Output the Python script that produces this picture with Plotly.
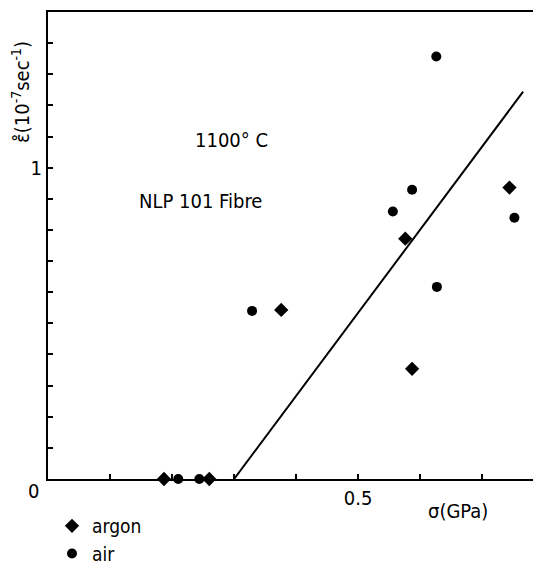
import plotly.graph_objects as go

# Data
argon_stress = [0.187, 0.260, 0.376, 0.576, 0.587, 0.744]
argon_rate = [0.0, 0.0, 0.543, 0.772, 0.354, 0.936]
air_stress = [0.210, 0.244, 0.329, 0.556, 0.587, 0.626, 0.627, 0.752]
air_rate = [0.0, 0.0, 0.540, 0.859, 0.929, 1.357, 0.617, 0.839]
fit_stress = [0.300, 0.766]
fit_rate = [0.0, 1.244]

x_ticks = [0, 0.1, 0.2, 0.3, 0.4, 0.5, 0.6, 0.7]
x_ticktext = ["", "", "", "", "", "0.5", "", ""]
y_ticks = [0, 0.1, 0.2, 0.3, 0.4, 0.5, 0.6, 0.7, 0.8, 0.9, 1.0, 1.1, 1.2, 1.3, 1.4]
y_ticktext = ["", "", "", "", "", "", "", "", "", "", "1", "", "", "", ""]

FONT = "DejaVu Sans Condensed, Liberation Sans Narrow, Liberation Sans"

fig = go.Figure()
fig.add_trace(go.Scatter(x=argon_stress, y=argon_rate, mode="markers", name="argon",
                         marker=dict(symbol="diamond", size=11, color="black"), cliponaxis=False))
fig.add_trace(go.Scatter(x=air_stress, y=air_rate, mode="markers", name="air",
                         marker=dict(symbol="circle", size=10, color="black"), cliponaxis=False))
fig.add_trace(go.Scatter(x=fit_stress, y=fit_rate, mode="lines", showlegend=False,
                         line=dict(color="black", width=2)))

# page offset of the figure (default body margin)
OFF = 8
L, T, W, H = 48 - OFF, 12 - OFF, 490, 467


def px(x):
    return (x - OFF - L) / W


def py(y):
    return (T + H - (y - OFF)) / H


fig.update_layout(
    width=541 - OFF, height=564 - OFF,
    margin=dict(l=L, r=3, t=T, b=564 - OFF - T - H, autoexpand=False),
    plot_bgcolor="white", paper_bgcolor="white",
    font=dict(family=FONT, size=20, color="black"),
    showlegend=True,
    legend=dict(x=px(52), y=py(507), xanchor="left", yanchor="top",
                font=dict(size=19), tracegroupgap=0, itemsizing="trace",
                bgcolor="rgba(0,0,0,0)"),
    xaxis=dict(range=[0, 0.79], tickvals=x_ticks, ticktext=x_ticktext,
               ticks="inside", ticklen=5, tickwidth=1.5, tickcolor="black",
               showline=True, linecolor="black", linewidth=2, mirror=True,
               showgrid=False, zeroline=False, tickfont=dict(size=20)),
    yaxis=dict(range=[0, 1.5], tickvals=y_ticks, ticktext=y_ticktext,
               ticks="inside", ticklen=5, tickwidth=1.5, tickcolor="black",
               showline=True, linecolor="black", linewidth=2, mirror=True,
               showgrid=False, zeroline=False, tickfont=dict(size=20)),
    annotations=[
        dict(text="1100° C", x=px(231), y=py(140), xref="paper", yref="paper",
             showarrow=False, xanchor="center", yanchor="middle"),
        dict(text="NLP 101 Fibre", x=px(200), y=py(201), xref="paper", yref="paper",
             showarrow=False, xanchor="center", yanchor="middle"),
        dict(text="0", x=px(33), y=py(491), xref="paper", yref="paper",
             showarrow=False, xanchor="center", yanchor="middle"),
        dict(text="σ(GPa)", x=px(458), y=py(511), xref="paper", yref="paper",
             showarrow=False, xanchor="center", yanchor="middle"),
        dict(text="ε̊(10<sup>-7</sup>sec<sup>-1</sup>)", x=px(21), y=py(92),
             xref="paper", yref="paper", showarrow=False, textangle=-90,
             xanchor="center", yanchor="middle"),
    ],
)

fig.write_html("out.html")
